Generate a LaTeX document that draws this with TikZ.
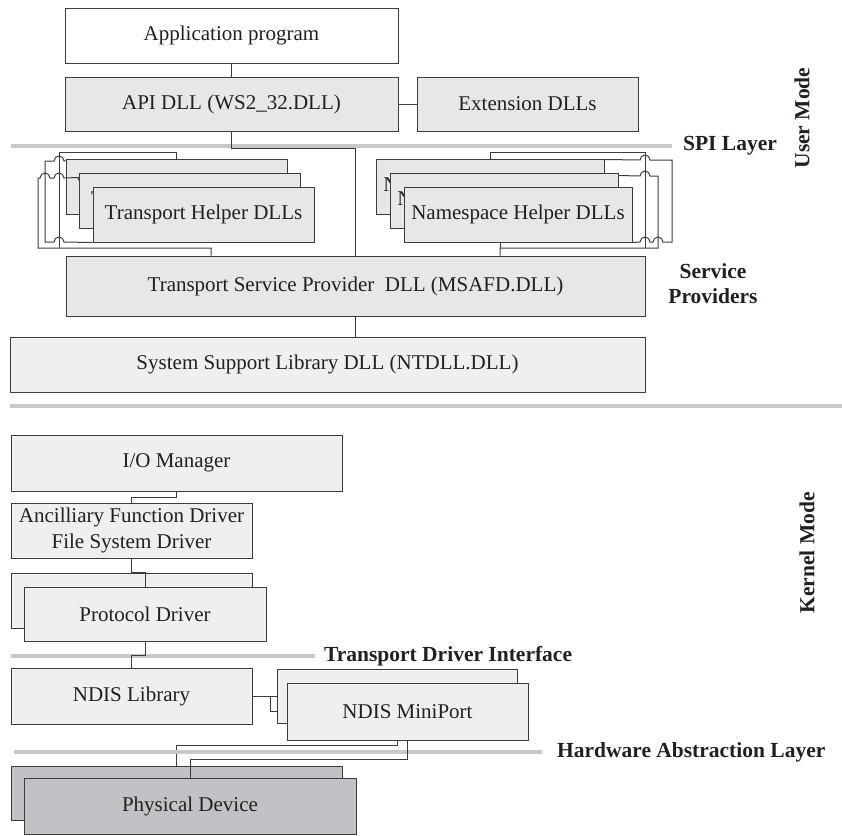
\documentclass[tikz,border=0pt]{standalone}
\usepackage{fontspec}
\setmainfont{Liberation Serif}
\usepackage{tikz}
\usetikzlibrary{positioning,backgrounds}

\definecolor{boxline}{HTML}{3C3C3C}
\definecolor{userfill}{HTML}{E6E7E9}
\definecolor{kernfill}{HTML}{EFEFEF}
\definecolor{devfill}{HTML}{C1C2C5}
\definecolor{layergray}{HTML}{C8C8C8}
\definecolor{inktext}{HTML}{231F20}

\begin{document}
\begin{tikzpicture}[x=1pt,y=-1pt,
    box/.style={draw=boxline, line width=1pt, fill=userfill, inner sep=0pt, text=inktext,
                font=\fontsize{21}{26}\selectfont, align=center},
    kbox/.style={box, fill=kernfill},
    wire/.style={draw=boxline, line width=1pt},
    layer/.style={draw=layergray, line width=3.5pt},
    tag/.style={font=\bfseries\fontsize{21.5}{25}\selectfont, text=inktext, align=center}]
    \useasboundingbox (0,0) rectangle (842,835);

    % Layer lines
    \draw[layer] (11,146) -- (672,146) node[tag, right=6pt] (spi) {SPI Layer};
    \draw[layer] (10,406) -- (842,406);
    \draw[layer] (11,656) -- (315,656) node[tag, right=4pt] (tdi) {Transport Driver Interface};
    \draw[layer] (14,752) -- (542,752) node[tag, right=10pt] (hal) {Hardware Abstraction Layer};

    % Mode labels
    \node[tag, rotate=90] (umode) at (802,118) {User Mode};
    \node[tag] (sprov) at (713,284) {Service\\Providers};
    \node[tag, rotate=90] (kmode) at (807,553) {Kernel Mode};

    % User mode
    \node[box, fill=white, minimum width=333pt, minimum height=55pt] (app) at (231.5,35.5) {Application program};
    \node[box, minimum width=333pt, minimum height=54pt] (api) at (231.5,104) {API DLL (WS2\_32.DLL)};
    \node[box, minimum width=221pt, minimum height=54pt] (ext) at (527.5,104) {Extension DLLs};
    \draw[wire] (app.south) -- (api.north);
    \draw[wire] (api.east) -- (ext.west);

    % Helper DLL stacks
    \node[box, minimum width=221pt, minimum height=55pt] (thA) at (176.5,186.5) {Transport Helper DLLs};
    \node[box, minimum width=221pt, minimum height=55pt] (thB) at (190,200.5) {Transport Helper DLLs};
    \node[box, minimum width=221pt, minimum height=55pt] (thC) at (203.5,214.5) {Transport Helper DLLs};
    \node[box, minimum width=228pt, minimum height=55pt] (nhA) at (490,186.5) {Namespace Helper DLLs};
    \node[box, minimum width=228pt, minimum height=55pt] (nhB) at (504,200.5) {Namespace Helper DLLs};
    \node[box, minimum width=228pt, minimum height=55pt] (nhC) at (518,214.5) {Namespace Helper DLLs};

    % Service providers
    \node[box, minimum width=579pt, minimum height=60pt] (tsp) at (355.5,286) {Transport Service Provider\ \ DLL (MSAFD.DLL)};
    \node[kbox, minimum width=635pt, minimum height=55pt] (ssl) at (327.5,364.5) {System Support Library DLL (NTDLL.DLL)};
    \draw[wire] (api.south) -- ++(0,17) -| (tsp.north);
    \draw[wire] (tsp.south) -- (tsp.south |- ssl.north);

    % Helper wiring (left)
    \coordinate (lb1) at (38,248);
    \coordinate (lb2) at (59,248);
    \coordinate (lbus) at (211,248);
    \draw[wire] (thA.north) -- ++(0,-6) -| (lb2);
    \draw[wire] ([yshift=-2pt]thA.north west) -- (64,161) arc[start angle=0, end angle=-180, radius=5]
        -- (45,161) -- (45,242) -- (54,242) arc[start angle=180, end angle=360, radius=5] -- (thC.south west);
    \draw[wire] ([yshift=-5pt]thB.north west) -- (64,178) arc[start angle=0, end angle=-180, radius=5]
        -- (50,178) arc[start angle=0, end angle=-180, radius=5] -- (38,178) -- (lb1) -- (lbus) -- (lbus |- tsp.north);

    % Helper wiring (right)
    \coordinate (rb1) at (645,248);
    \coordinate (rb2) at (658,248);
    \coordinate (rbus) at (500,248);
    \draw[wire] (nhA.north) -- ++(0,-6) -| (rb1);
    \draw[wire] ([yshift=-1pt]nhA.north east) -- (640,160) arc[start angle=180, end angle=360, radius=5]
        -- (672,160) -- (672,242) -- (663,242) arc[start angle=0, end angle=-180, radius=5]
        -- (650,242) arc[start angle=0, end angle=-180, radius=5] -- (nhC.south east);
    \draw[wire] ([yshift=-3pt]nhB.north east) -- (640,176) arc[start angle=180, end angle=360, radius=5]
        -- (658,176) -- (rb2) -- (rbus) -- (rbus |- tsp.north);
    \draw[wire] (rbus |- nhC.south) -- (rbus);

    % Kernel mode
    \node[kbox, minimum width=331pt, minimum height=56pt] (iom) at (176.5,463) {I/O Manager};
    \node[kbox, minimum width=241pt, minimum height=55pt] (afd) at (131.5,530.5) {Ancilliary Function Driver\\File System Driver};
    \node[kbox, minimum width=241pt, minimum height=55pt] (pdA) at (131.5,600.5) {};
    \node[kbox, minimum width=242pt, minimum height=54pt] (pdB) at (145,614) {Protocol Driver};
    \node[kbox, minimum width=241pt, minimum height=56pt] (ndl) at (131.5,696) {NDIS Library};
    \draw[wire] (iom.south) -- ++(0,6) -| (afd.north);
    \draw[wire] (afd.south) -- (pdA.north) -| (pdB.north);
    \draw[wire] (pdB.south) -- ++(0,14) -| (ndl.north);

    % NDIS miniport and device
    \node[kbox, minimum width=240pt, minimum height=54pt] (mpA) at (397,696) {};
    \node[kbox, minimum width=241pt, minimum height=57pt] (mpB) at (407.5,711.5) {NDIS MiniPort};
    \node[box, fill=devfill, minimum width=331pt, minimum height=54pt] (phA) at (176.5,793) {};
    \node[box, fill=devfill, minimum width=332pt, minimum height=56pt] (phB) at (190,806) {Physical Device};
    \begin{scope}[on background layer]
        \draw[wire] (ndl.east) -- (mpA.west);
        \draw[wire] (ndl.east) ++(18,0) |- (mpB.west);
        \draw[wire] (mpA.south) -- ++(0,22) -| (phA.north);
    \end{scope}
    \draw[wire] (mpB.south) -- ++(0,19) -| (phB.north);
\end{tikzpicture}
\end{document}
